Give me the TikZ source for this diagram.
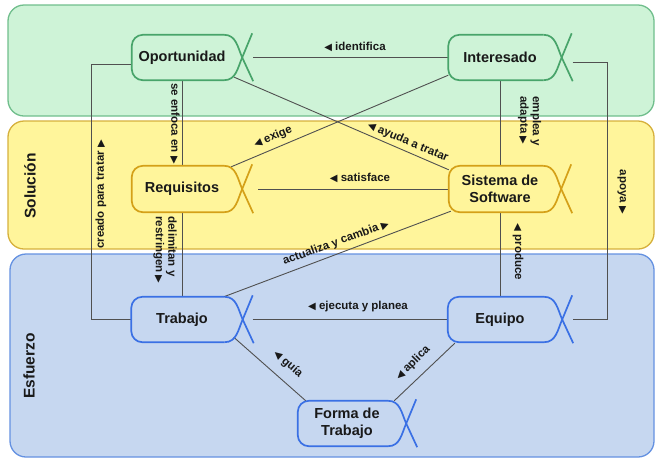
\documentclass[tikz,border=0pt]{standalone}
\usepackage{fontspec}
\setmainfont{Liberation Sans}
\newfontfamily\symfont{DejaVu Sans}
\usetikzlibrary{calc}

\definecolor{grfill}{RGB}{206,243,215}
\definecolor{grline}{RGB}{112,190,140}
\definecolor{grnode}{RGB}{72,164,106}
\definecolor{yefill}{RGB}{255,245,155}
\definecolor{yeline}{RGB}{214,176,60}
\definecolor{yenode}{RGB}{212,160,24}
\definecolor{blfill}{RGB}{198,215,240}
\definecolor{blline}{RGB}{100,145,225}
\definecolor{blnode}{RGB}{58,112,228}
\definecolor{connclr}{RGB}{80,80,80}
\definecolor{txtclr}{RGB}{25,25,25}

% small direction triangles used inside labels
\newcommand{\tril}{{\symfont\fontsize{10}{10}\selectfont ◀}}
\newcommand{\trir}{{\symfont\fontsize{10}{10}\selectfont ▶}}

% outline of an alpha: rounded left end, crossing strokes on the right
\newcommand{\alphashape}[2]{%
  \draw[#2, line width=1.7pt, rounded corners=11pt]
    ($(#1.north east)+(-8,0)$) -- (#1.north west) -- (#1.south west) -- ($(#1.south east)+(-8,0)$);
  \draw[#2, line width=1.7pt]
    ($(#1.north east)+(-8,0)$) .. controls ($(#1.north east)+(4,0)$) and ($(#1.east)+(5.5,-10)$) .. ($(#1.east)+(10,0)$)
    -- ($(#1.south east)+(21,1)$);
  \draw[#2, line width=1.7pt]
    ($(#1.south east)+(-8,0)$) .. controls ($(#1.south east)+(4,0)$) and ($(#1.east)+(5.5,10)$) .. ($(#1.east)+(10,0)$)
    -- ($(#1.north east)+(20,-1.5)$);
}

\begin{document}
\begin{tikzpicture}[x=1pt,y=-1pt,
  band/.style={rounded corners=16pt, line width=1.3pt},
  alpha/.style={inner sep=0pt, minimum height=45pt, text=txtclr, align=center,
    font=\bfseries\fontsize{14.5}{17}\selectfont},
  conn/.style={draw=connclr, line width=0.9pt},
  lbl/.style={inner sep=0pt, text=txtclr, font=\bfseries\fontsize{11.5}{12.5}\selectfont},
  bandlbl/.style={inner sep=0pt, text=txtclr, rotate=90, font=\bfseries\fontsize{15.5}{18}\selectfont}
]
\useasboundingbox (0,0) rectangle (656,459);

% area bands
\draw[band, fill=grfill, draw=grline] (8,5) rectangle (654,116);
\draw[band, fill=yefill, draw=yeline] (8,121) rectangle (654,249);
\draw[band, fill=blfill, draw=blline] (10,254) rectangle (654,457);

\node[bandlbl] (solucion) at (30,186) {Solución};
\node[bandlbl] (esfuerzo) at (29,366) {Esfuerzo};

% alphas
\node[alpha, minimum width=100pt] (opo) at (182,57.5) {Oportunidad};
\node[alpha, minimum width=103pt] (int) at (500,57.5) {Interesado};
\node[alpha, minimum width=100pt, minimum height=46pt] (req) at (182,189) {Requisitos};
\node[alpha, minimum width=102pt, minimum height=46pt] (sis) at (500,189) {Sistema de\\Software};
\node[alpha, minimum width=101pt] (tra) at (182,319.5) {Trabajo};
\node[alpha, minimum width=104pt] (equ) at (500,319.5) {Equipo};
\node[alpha, minimum width=98pt] (for) at (347,423.5) {Forma de\\Trabajo};

% relations
\draw[conn] ($(opo.east)+(21,0)$) -- (int.west);
\draw[conn] ($(opo.south east)+(2,-3)$) -- ($(sis.north west)+(0,4)$);
\draw[conn] ($(int.south west)+(0,-5)$) -- ($(req.north east)+(-1,1)$);
\draw[conn] ($(req.east)+(26,0)$) -- (sis.west);
\draw[conn] ($(sis.south west)+(2,-1)$) -- ($(tra.north east)+(-9,0)$);
\draw[conn] (int.south) -- (sis.north);
\draw[conn] (sis.south) -- (equ.north);
\draw[conn] ($(int.east)+(21,5)$) -| ($(equ.east)+(55,0)$) -- ($(equ.east)+(21,0)$);
\draw[conn] ($(opo.west)+(0,7)$) -| ($(tra.west)+(-40,0)$) -- (tra.west);
\draw[conn] (opo.south) -- (req.north);
\draw[conn] (req.south) -- (tra.north);
\draw[conn] ($(tra.east)+(20,0)$) -- (equ.west);
\draw[conn] ($(tra.south east)+(1,-5)$) -- ($(for.north west)+(8,0)$);
\draw[conn] ($(equ.south west)+(7,1)$) -- ($(for.north east)+(-2,0)$);

% alpha outlines
\alphashape{opo}{grnode}
\alphashape{int}{grnode}
\alphashape{req}{yenode}
\alphashape{sis}{yenode}
\alphashape{tra}{blnode}
\alphashape{equ}{blnode}
\alphashape{for}{blnode}

% relation labels
\node[lbl] (l-identifica) at (355,47) {\tril\ identifica};
\node[lbl, rotate=-23] (l-ayuda) at (408,142) {\tril\ ayuda a tratar};
\node[lbl, rotate=23] (l-exige) at (273,137) {\tril\ exige};
\node[lbl] (l-satisface) at (360,178) {\tril\ satisface};
\node[lbl, rotate=20] (l-actualiza) at (336,243) {actualiza y cambia \trir};
\node[lbl, rotate=-90, align=left] (l-emplea) at (529.5,121) {emplea y\\adapta \trir};
\node[lbl, rotate=-90] (l-produce) at (518,252) {\tril\ produce};
\node[lbl, rotate=-90] (l-apoya) at (622,192) {apoya \trir};
\node[lbl, rotate=90] (l-creado) at (101,194.5) {creado para tratar \trir};
\node[lbl, rotate=-90] (l-enfoca) at (175,123.5) {se enfoca en \trir};
\node[lbl, rotate=-90, align=left] (l-delimitan) at (165,250) {delimitan y\\restringen \trir};
\node[lbl] (l-ejecuta) at (358,307) {\tril\ ejecuta y planea};
\node[lbl, rotate=-41] (l-guia) at (288,364) {\tril\ guía};
\node[lbl, rotate=45] (l-aplica) at (413,363) {\tril\ aplica};
\end{tikzpicture}
\end{document}
